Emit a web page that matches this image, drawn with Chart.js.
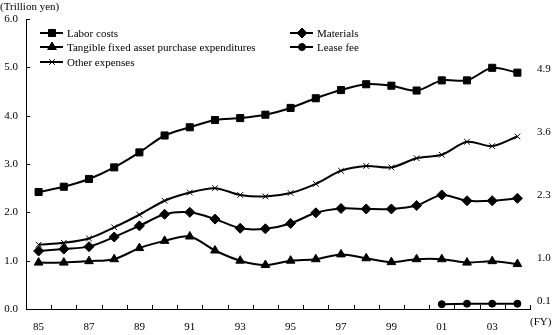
<!DOCTYPE html>
<html>
<head>
<meta charset="utf-8">
<script src="https://cdn.jsdelivr.net/npm/chart.js@4/dist/chart.umd.min.js"></script>
<style>
  body { margin: 0; background: #fff; }
  #wrap { position: relative; width: 552px; height: 335px; }
</style>
</head>
<body>
<div id="wrap"><canvas id="chart"></canvas></div>
<script>
const YEARS = ["85", "86", "87", "88", "89", "90", "91", "92", "93", "94",
  "95", "96", "97", "98", "99", "00", "01", "02", "03", "04"]

const LABOR = [2.42, 2.53, 2.69, 2.93, 3.24, 3.59, 3.76, 3.91, 3.95, 4.02,
  4.16, 4.36, 4.53, 4.65, 4.62, 4.52, 4.73, 4.73, 4.99, 4.89]
const MATERIALS = [1.20, 1.24, 1.29, 1.49, 1.72, 1.96, 2.00, 1.86, 1.67, 1.66,
  1.77, 1.99, 2.08, 2.07, 2.07, 2.14, 2.36, 2.24, 2.24, 2.29]
const TANGIBLE = [0.96, 0.96, 0.99, 1.03, 1.26, 1.41, 1.50, 1.21, 1.00, 0.91,
  1.00, 1.03, 1.13, 1.05, 0.97, 1.03, 1.03, 0.96, 0.99, 0.93]
const LEASE = [null, null, null, null, null, null, null, null, null, null,
  null, null, null, null, null, null, 0.10, 0.11, 0.11, 0.11]
const OTHER = [1.33, 1.37, 1.46, 1.69, 1.95, 2.24, 2.41, 2.50, 2.36, 2.33,
  2.40, 2.59, 2.86, 2.96, 2.93, 3.12, 3.19, 3.46, 3.37, 3.57]

const END_LABELS = ["4.9", "3.6", "2.3", "1.0", "0.1"]

const FONT = "Liberation Serif"
const BLACK = "#000"

const series = [
  { label: "Labor costs", data: LABOR, style: "rect", radius: 5, end: "4.9" },
  { label: "Materials", data: MATERIALS, style: "rectRot", radius: 5, end: "2.3" },
  { label: "Tangible fixed asset purchase expenditures", data: TANGIBLE, style: "triangle", radius: 5, end: "1.0" },
  { label: "Lease fee", data: LEASE, style: "circle", radius: 3.5, end: "0.1" },
  { label: "Other expenses", data: OTHER, style: "crossRot", radius: 4, end: "3.6" },
]

// legend slots: [x of line start, y]
const LEGEND_POS = {
  "Labor costs": [40, 33],
  "Materials": [290, 33],
  "Tangible fixed asset purchase expenditures": [40, 47],
  "Lease fee": [290, 47],
  "Other expenses": [40, 62],
}

const decor = {
  id: "decor",
  afterDraw: (chart) => {
    const { ctx } = chart
    const x = chart.scales.x
    const y = chart.scales.y

    ctx.save()
    ctx.strokeStyle = BLACK
    ctx.lineWidth = 1

    // inward tick marks
    ctx.beginPath()
    for (let i = 0; i <= YEARS.length; i++) {
      const px = Math.round(x.left + (x.right - x.left) * i / YEARS.length) + 0.5
      ctx.moveTo(px, y.bottom)
      ctx.lineTo(px, y.bottom - 4)
    }
    for (const t of y.ticks) {
      const py = Math.round(y.getPixelForValue(t.value)) + 0.5
      ctx.moveTo(x.left, py)
      ctx.lineTo(x.left + 4, py)
    }
    ctx.stroke()

    ctx.fillStyle = BLACK
    ctx.font = `11px "${FONT}"`
    ctx.textBaseline = "middle"

    // title and unit
    ctx.textAlign = "left"
    ctx.fillText("(Trillion yen)", 0, 7)
    ctx.fillText("(FY)", 530, 322)

    // legend
    chart.data.datasets.forEach((ds, i) => {
      const [lx, ly] = LEGEND_POS[ds.label]
      ctx.lineWidth = 2
      ctx.beginPath()
      ctx.moveTo(lx, ly)
      ctx.lineTo(lx + 23, ly)
      ctx.stroke()
      ctx.lineWidth = ds.pointBorderWidth
      Chart.helpers.drawPoint(ctx, {
        pointStyle: ds.pointStyle,
        radius: ds.pointRadius,
        rotation: 0,
        borderWidth: ds.pointBorderWidth,
      }, lx + 12, ly)
      ctx.fillText(ds.label, lx + 27, ly + 1)
    })

    // end-of-line value labels
    chart.data.datasets.forEach((ds, i) => {
      const last = ds.data[ds.data.length - 1]
      const text = series[i].end
      ctx.fillText(text, 537, y.getPixelForValue(parseFloat(text)) - 3)
    })

    ctx.restore()
  },
}

const datasets = series.map((s) => ({
  label: s.label,
  data: s.data,
  borderColor: BLACK,
  backgroundColor: BLACK,
  borderWidth: 2,
  tension: 0.3,
  pointStyle: s.style,
  pointRadius: s.radius,
  pointBorderWidth: s.style === "crossRot" ? 1 : 1,
  pointBackgroundColor: BLACK,
  pointBorderColor: BLACK,
  spanGaps: false,
}))

new Chart(document.getElementById("chart"), {
  type: "line",
  data: { labels: YEARS, datasets: datasets },
  options: {
    animation: false,
    responsive: true,
    maintainAspectRatio: false,
    devicePixelRatio: 1,
    layout: { padding: { top: 19, right: 22, left: 0, bottom: 0 } },
    plugins: {
      legend: { display: false },
      tooltip: { enabled: false },
    },
    scales: {
      x: {
        offset: true,
        grid: { display: false, drawTicks: false },
        border: { display: true, color: BLACK, width: 1 },
        afterFit: (scale) => { scale.height = 26 },
        ticks: {
          autoSkip: false,
          maxRotation: 0,
          minRotation: 0,
          padding: 12,
          color: BLACK,
          font: { family: FONT, size: 11 },
          callback: function (value, index) {
            if (index % 2 === 0) return this.getLabelForValue(value)
            return ""
          },
        },
      },
      y: {
        min: 0,
        max: 6,
        grid: { display: false, drawTicks: false },
        border: { display: true, color: BLACK, width: 1 },
        afterFit: (scale) => { scale.width = 26 },
        ticks: {
          stepSize: 1,
          padding: 8,
          color: BLACK,
          font: { family: FONT, size: 11 },
          callback: (value) => value.toFixed(1),
        },
      },
    },
  },
  plugins: [decor],
})
</script>
</body>
</html>
